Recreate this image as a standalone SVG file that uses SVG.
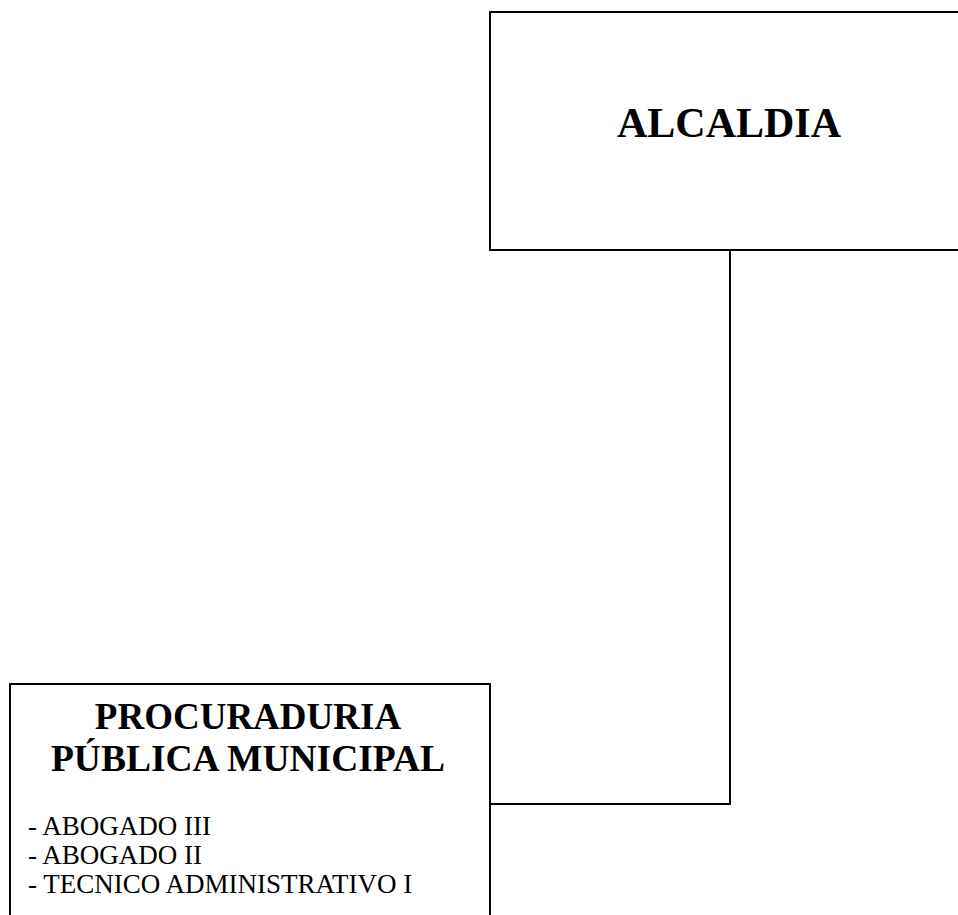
<svg xmlns="http://www.w3.org/2000/svg" width="958" height="915" viewBox="0 0 958 915">
<style>
.box{fill:#fff;stroke:#000;stroke-width:2}
.conn{fill:none;stroke:#000;stroke-width:2}
.title{font-family:"Liberation Serif","Times New Roman",serif;font-weight:bold;fill:#000;text-anchor:middle}
.item{font-family:"Liberation Serif","Times New Roman",serif;font-size:27px;fill:#000}
</style>
<rect width="958" height="915" fill="#fff"/>
<g id="connectors">
<path class="conn" d="M730,251 V804 H490"/>
</g>
<g id="alcaldia">
<rect class="box" x="490" y="12" width="480" height="238"/>
<text class="title" x="729" y="137" font-size="42">ALCALDIA</text>
</g>
<g id="procuraduria">
<rect class="box" x="10" y="684" width="480" height="250"/>
<text class="title" x="248" y="729" font-size="37">PROCURADURIA</text>
<text class="title" x="248" y="771" font-size="37.5">PÚBLICA MUNICIPAL</text>
<text class="item" x="28" y="835">- ABOGADO III</text>
<text class="item" x="28" y="864">- ABOGADO II</text>
<text class="item" x="28" y="893">- TECNICO ADMINISTRATIVO I</text>
</g>
</svg>
